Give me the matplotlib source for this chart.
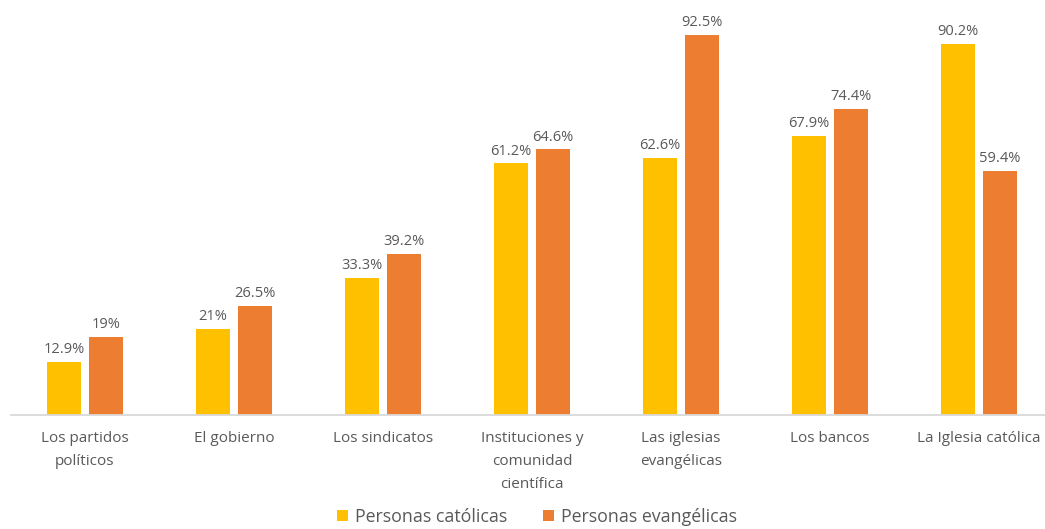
import matplotlib
matplotlib.use("Agg")
import matplotlib.pyplot as plt
import numpy as np

categories = [
    "Los partidos\npolíticos",
    "El gobierno",
    "Los sindicatos",
    "Instituciones y\ncomunidad\ncientífica",
    "Las iglesias\nevangélicas",
    "Los bancos",
    "La Iglesia católica",
]
catolicas = [12.9, 21, 33.3, 61.2, 62.6, 67.9, 90.2]
evangelicas = [19, 26.5, 39.2, 64.6, 92.5, 74.4, 59.4]
series_names = ["Personas católicas", "Personas evangélicas"]
colors = ["#FFC000", "#ED7D31"]

plt.rcParams["font.family"] = ["Open Sans", "DejaVu Sans"]
text_color = "#595959"

fig = plt.figure(figsize=(10.45, 5.29), dpi=100)
ax = fig.add_axes([10.5 / 1045, 114 / 529, 1043 / 1045, 411 / 529])

x = np.arange(len(categories))
width = 0.222
offset = 0.141

bars = []
for vals, off, col, name in zip([catolicas, evangelicas], [-offset, offset], colors, series_names):
    b = ax.bar(x + off, vals, width, color=col, label=name)
    bars.append(b)
    for rect, v in zip(b, vals):
        label = f"{v:g}%"
        ax.annotate(label, (rect.get_x() + rect.get_width() / 2, v),
                    xytext=(0, 3.5), textcoords="offset points",
                    ha="center", va="bottom", fontsize=10.5, color=text_color)

ax.set_xlim(-0.5, len(categories) - 0.5)
ax.set_ylim(0, 100)
ax.set_xticks(x)
ax.set_xticklabels(categories, fontsize=11, color=text_color, linespacing=1.72)
ax.tick_params(axis="x", length=0, pad=11.5)
ax.set_yticks([])
for s in ["top", "right", "left"]:
    ax.spines[s].set_visible(False)
ax.spines["bottom"].set_color("#D9D9D9")
ax.spines["bottom"].set_linewidth(1.3)

leg = fig.legend(handles=bars, labels=series_names, loc="center",
                 bbox_to_anchor=(537 / 1045, 12 / 529), ncol=2, frameon=False,
                 fontsize=12.8, handlelength=0.6, handleheight=0.6,
                 handletextpad=0.4, columnspacing=2.0)
for t in leg.get_texts():
    t.set_color(text_color)

fig.savefig("out.png", dpi=100)
